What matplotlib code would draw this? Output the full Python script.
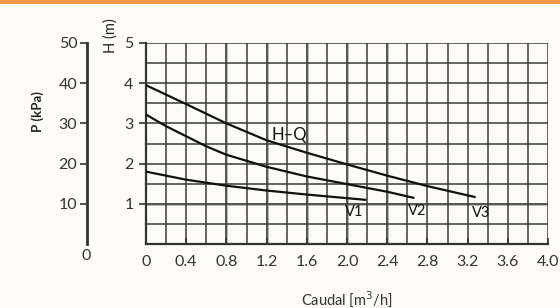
import matplotlib
matplotlib.use("Agg")
import matplotlib.pyplot as plt
import numpy as np
from matplotlib.patches import Rectangle

plt.rcParams['font.family'] = ['Lato', 'DejaVu Sans']

# Data
hq_x = [0, 0.4, 0.8, 1.2, 1.6, 2.0, 2.4, 2.8, 3.2, 3.27]
hq_y = [3.95, 3.48, 3.00, 2.58, 2.27, 1.98, 1.70, 1.44, 1.21, 1.17]
v2_x = [0, 0.2, 0.4, 0.6, 0.8, 1.2, 1.6, 2.0, 2.4, 2.66]
v2_y = [3.22, 2.93, 2.68, 2.43, 2.22, 1.92, 1.68, 1.49, 1.30, 1.15]
v1_x = [0, 0.4, 0.8, 1.2, 1.6, 2.0, 2.18]
v1_y = [1.80, 1.60, 1.45, 1.33, 1.23, 1.14, 1.10]
x_ticks = [0, 0.4, 0.8, 1.2, 1.6, 2.0, 2.4, 2.8, 3.2, 3.6, 4.0]
x_labels = ["0", "0.4", "0.8", "1.2", "1.6", "2.0", "2.4", "2.8", "3.2", "3.6", "4.0"]
h_ticks = [1, 2, 3, 4, 5]
p_ticks = [10, 20, 30, 40, 50]
gray_x = [0.8, 1.2, 1.6, 2.0, 2.4]
gray_y = [1]

W, H = 560, 308
bg = '#fcfbf7'
fig = plt.figure(figsize=(W/100, H/100), dpi=100, facecolor=bg)

# orange strip at the top
fig.patches.append(Rectangle((0, 1 - 4/H), 1, 4/H, transform=fig.transFigure,
                             facecolor='#f39a4e', edgecolor='none'))

L, R, T, B = 146, 548, 43, 244
ax = fig.add_axes([L/W, 1 - B/H, (R-L)/W, (B-T)/H])
ax.set_facecolor(bg)
ax.set_xlim(0, 4.0)
ax.set_ylim(0, 5)

# grid
ax.set_xticks(np.arange(0, 4.01, 0.2), minor=True)
ax.set_yticks(np.arange(0, 5.01, 0.5), minor=True)
ax.grid(which='both', color='#3a3a3a', lw=1.1, zorder=0)
for gx in gray_x:
    ax.axvline(gx, color='#b4b4b4', lw=2.0, zorder=0.5)
for gy in gray_y:
    ax.axhline(gy, color='#b4b4b4', lw=2.0, zorder=0.5)
ax.tick_params(which='minor', length=0)

ax.set_xticks(x_ticks)
ax.set_xticklabels(x_labels)
ax.set_yticks(h_ticks)
ax.tick_params(which='major', length=5, width=1.2, color='#333333',
               labelsize=11.5, labelcolor='#333333', pad=4)
ax.tick_params(axis='x', direction='in', length=4, pad=8)
for s in ['top', 'right']:
    ax.spines[s].set_visible(False)
for s in ['left', 'bottom']:
    ax.spines[s].set_color('#333333')
    ax.spines[s].set_linewidth(1.6)

for xs, ys in [(hq_x, hq_y), (v2_x, v2_y), (v1_x, v1_y)]:
    ax.plot(xs, ys, color='#111111', lw=1.6, zorder=3)

ax.text(1.43, 2.72, "H\u2013Q", fontsize=12, color='#111111', ha='center', va='center', zorder=4)
ax.text(2.07, 0.80, "V1", fontsize=10.5, color='#111111', ha='center', va='center', zorder=4)
ax.text(2.70, 0.82, "V2", fontsize=10.5, color='#111111', ha='center', va='center', zorder=4)
ax.text(3.33, 0.76, "V3", fontsize=10.5, color='#111111', ha='center', va='center', zorder=4)

ax.set_xlabel("Caudal [m$^3$/h]", fontsize=10.5, color='#333333', labelpad=14)

# H axis label
fig.text(111/W, 1 - 36/H, "H (m)", rotation=90, fontsize=10.5, color='#222222',
         ha='center', va='center')

# P (kPa) axis
pax = fig.add_axes([87/W, 1 - B/H, 0.001, (B-T)/H])
pax.set_ylim(0, 50)
pax.set_xticks([])
pax.set_yticks(p_ticks)
pax.tick_params(axis='y', length=5, width=1.2, color='#333333', labelsize=11.5,
                labelcolor='#333333', pad=2)
for s in ['top', 'right', 'bottom']:
    pax.spines[s].set_visible(False)
pax.spines['left'].set_linewidth(2.0)
pax.spines['left'].set_color('#333333')
pax.patch.set_alpha(0)
fig.text(86/W, 1 - 256/H, "0", fontsize=11.5, color='#333333', ha='center', va='center')
fig.text(38/W, 1 - 112/H, "P (kPa)", rotation=90, fontsize=9.5, fontweight='bold',
         color='#222222', ha='center', va='center')

fig.savefig("out.png", dpi=100, facecolor=bg)
